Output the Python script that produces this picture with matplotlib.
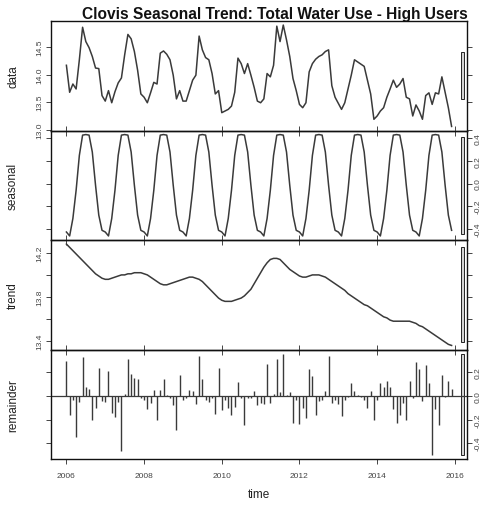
import matplotlib
matplotlib.use('agg')
import numpy as np
import matplotlib.pyplot as plt
import matplotlib.transforms as mtransforms

plt.rcParams['font.family'] = ['Liberation Sans', 'DejaVu Sans']

# monthly series, Jan 2006 - Dec 2015
start_year = 2006
n_months = 120

data = [14.17, 13.68, 13.83, 13.74, 14.27, 14.86, 14.60, 14.49, 14.33, 14.12, 14.11, 13.62,
        13.52, 13.71, 13.49, 13.69, 13.85, 13.94, 14.36, 14.73, 14.65, 14.42, 14.08, 13.65,
        13.59, 13.49, 13.67, 13.86, 13.83, 14.39, 14.43, 14.37, 14.27, 13.99, 13.56, 13.71,
        13.52, 13.52, 13.71, 13.90, 13.99, 14.70, 14.45, 14.31, 14.27, 14.02, 13.65, 13.71,
        13.31, 13.34, 13.37, 13.43, 13.68, 14.30, 14.20, 14.02, 14.20, 13.99, 13.77, 13.52,
        13.49, 13.56, 14.02, 13.96, 14.17, 14.88, 14.60, 14.90, 14.63, 14.33, 13.93, 13.71,
        13.46, 13.40, 13.49, 14.05, 14.20, 14.28, 14.33, 14.36, 14.42, 14.45, 13.80, 13.59,
        13.48, 13.37, 13.49, 13.74, 13.99, 14.27, 14.23, 14.19, 14.15, 13.90, 13.65, 13.19,
        13.25, 13.34, 13.40, 13.59, 13.74, 13.90, 13.77, 13.83, 13.93, 13.59, 13.56, 13.25,
        13.45, 13.34, 13.19, 13.62, 13.67, 13.46, 13.67, 13.65, 13.96, 13.68, 13.40, 13.06]

# one year of the (periodic) seasonal component, Jan..Dec
seasonal_year = [-0.43, -0.465, -0.31, -0.06, 0.25, 0.43, 0.435, 0.43, 0.28, -0.015, -0.28, -0.415]

trend = [14.28, 14.25, 14.22, 14.19, 14.16, 14.13, 14.10, 14.07, 14.04, 14.01, 13.99, 13.97,
         13.96, 13.96, 13.97, 13.98, 13.99, 14.00, 14.00, 14.01, 14.01, 14.02, 14.02, 14.02,
         14.01, 14.00, 13.98, 13.96, 13.94, 13.92, 13.91, 13.91, 13.92, 13.93, 13.94, 13.95,
         13.96, 13.97, 13.98, 13.98, 13.97, 13.96, 13.94, 13.91, 13.88, 13.85, 13.82, 13.79,
         13.77, 13.76, 13.76, 13.76, 13.77, 13.78, 13.79, 13.81, 13.84, 13.87, 13.92, 13.97,
         14.02, 14.07, 14.11, 14.14, 14.15, 14.15, 14.14, 14.11, 14.08, 14.05, 14.03, 14.01,
         13.99, 13.98, 13.98, 13.99, 14.00, 14.00, 14.00, 13.99, 13.98, 13.96, 13.94, 13.92,
         13.90, 13.88, 13.86, 13.83, 13.81, 13.79, 13.77, 13.75, 13.73, 13.72, 13.70, 13.68,
         13.66, 13.64, 13.62, 13.61, 13.59, 13.58, 13.58, 13.58, 13.58, 13.58, 13.58, 13.57,
         13.56, 13.54, 13.53, 13.51, 13.49, 13.47, 13.45, 13.43, 13.41, 13.39, 13.37, 13.36]

remainder = [0.30, -0.16, -0.03, -0.35, -0.05, 0.33, 0.08, 0.06, -0.20, -0.10, 0.24, -0.04,
             -0.05, 0.21, -0.14, -0.18, -0.05, -0.47, 0.02, 0.31, 0.19, 0.15, 0.14, -0.02,
             -0.03, -0.11, -0.06, 0.05, -0.20, 0.05, 0.14, 0.01, -0.02, -0.08, -0.29, 0.18,
             -0.03, -0.02, 0.05, 0.04, -0.07, 0.34, 0.14, -0.03, -0.05, -0.02, -0.15, 0.24,
             -0.12, -0.03, -0.10, -0.16, -0.09, 0.12, -0.02, -0.25, -0.02, -0.02, 0.04, -0.08,
             -0.06, -0.07, 0.27, -0.06, 0.02, 0.31, 0.03, 0.36, 0.01, 0.03, -0.23, -0.03,
             -0.24, -0.10, -0.19, 0.23, 0.17, -0.16, -0.04, -0.03, 0.04, 0.34, -0.06, -0.03,
             -0.07, -0.17, -0.03, -0.01, 0.11, 0.04, 0.01, -0.01, -0.03, -0.10, 0.04, -0.20,
             -0.03, 0.11, 0.08, 0.13, 0.08, -0.11, -0.23, -0.16, -0.06, -0.20, 0.13, -0.02,
             0.29, 0.23, -0.04, 0.26, 0.11, -0.50, -0.11, -0.25, 0.18, -0.01, 0.13, 0.06]

panel_names = ['data', 'seasonal', 'trend', 'remainder']
yticks = [[13.0, 13.5, 14.0, 14.5],
          [-0.4, -0.2, 0.0, 0.2, 0.4],
          [13.4, 13.6, 13.8, 14.0, 14.2],
          [-0.4, -0.2, 0.0, 0.2]]
ytick_labels = [['13.0', '13.5', '14.0', '14.5'],
                ['-0.4', '-0.2', '0.0', '0.2', '0.4'],
                ['13.4', '', '13.8', '', '14.2'],
                ['-0.4', '-0.2', '0.0', '0.2']]
xticks = [2006, 2008, 2010, 2012, 2014, 2016]

t = start_year + np.arange(n_months) / 12
seasonal = np.tile(seasonal_year, n_months // 12)
series = [np.array(data), seasonal, np.array(trend), np.array(remainder)]

W, H = 498, 506
fig = plt.figure(figsize=(W / 100, H / 100), dpi=100)

left, right = 51, 467
top, bottom = 22, 460
ph = (bottom - top) / 4
line_col = '#3a3a3a'

# range bar: same height (data units) in every panel
rng = [s.max() - s.min() for s in series]
mx = min(rng)

xmin, xmax = t[0], t[-1]
xpad = 0.04 * (xmax - xmin)

for i, (name, s) in enumerate(zip(panel_names, series)):
    y0 = top + i * ph
    ax = fig.add_axes([left / W, 1 - (y0 + ph) / H, (right - left) / W, ph / H])
    ax.set_facecolor('none')
    if i < 3:
        ax.plot(t, s, color=line_col, lw=1.1)
    else:
        ax.vlines(t, 0, s, color=line_col, lw=1.0)
        ax.axhline(0, color=line_col, lw=0.9)
    lo, hi = s.min(), s.max()
    r = hi - lo
    ax.set_ylim(lo - 0.04 * r, hi + 0.04 * r)
    ax.set_xlim(xmin - xpad, xmax + xpad)

    # range bar
    ymid = (lo + hi) / 2
    trans = mtransforms.blended_transform_factory(ax.transAxes, ax.transData)
    ax.add_patch(plt.Rectangle((1 - 1 / 64, ymid - mx / 2), 0.6 / 64, mx,
                               transform=trans, facecolor='#d3d3d3',
                               edgecolor='#222222', lw=0.7, clip_on=False))

    for sp in ax.spines.values():
        sp.set_color('#111111')
        sp.set_linewidth(1.0)

    ax.set_yticks(yticks[i])
    ax.set_yticklabels(ytick_labels[i], rotation=90, va='center')
    lab_right = (i % 2 == 1)
    ax.tick_params(axis='y', which='both', direction='out', length=3.5, width=0.7,
                   left=True, right=True, labelleft=not lab_right,
                   labelright=lab_right, labelsize=6, labelcolor='#444444',
                   colors='#444444', pad=2)
    for lab in ax.get_yticklabels():
        lab.set_color('#444444')

    ax.set_xticks(xticks)
    ax.tick_params(axis='x', direction='out', length=3.5, width=0.7,
                   top=(i > 0), bottom=True, labeltop=False,
                   labelbottom=(i == 3), labelsize=6, labelcolor='#444444',
                   colors='#444444', pad=6)
    ax.set_ylabel(name, fontsize=8.5, color='#222222', labelpad=6)
    ax.yaxis.set_label_coords(-32 / (right - left), 0.5)

    if i == 3:
        ax.set_xlabel('time', fontsize=8.5, color='#222222', labelpad=6)

fig.text(468 / W, 1 - 14 / H, 'Clovis Seasonal Trend: Total Water Use - High Users',
         ha='right', va='center', fontsize=11.2, fontweight='bold', color='#111111')

fig.savefig('out.png', dpi=100)
